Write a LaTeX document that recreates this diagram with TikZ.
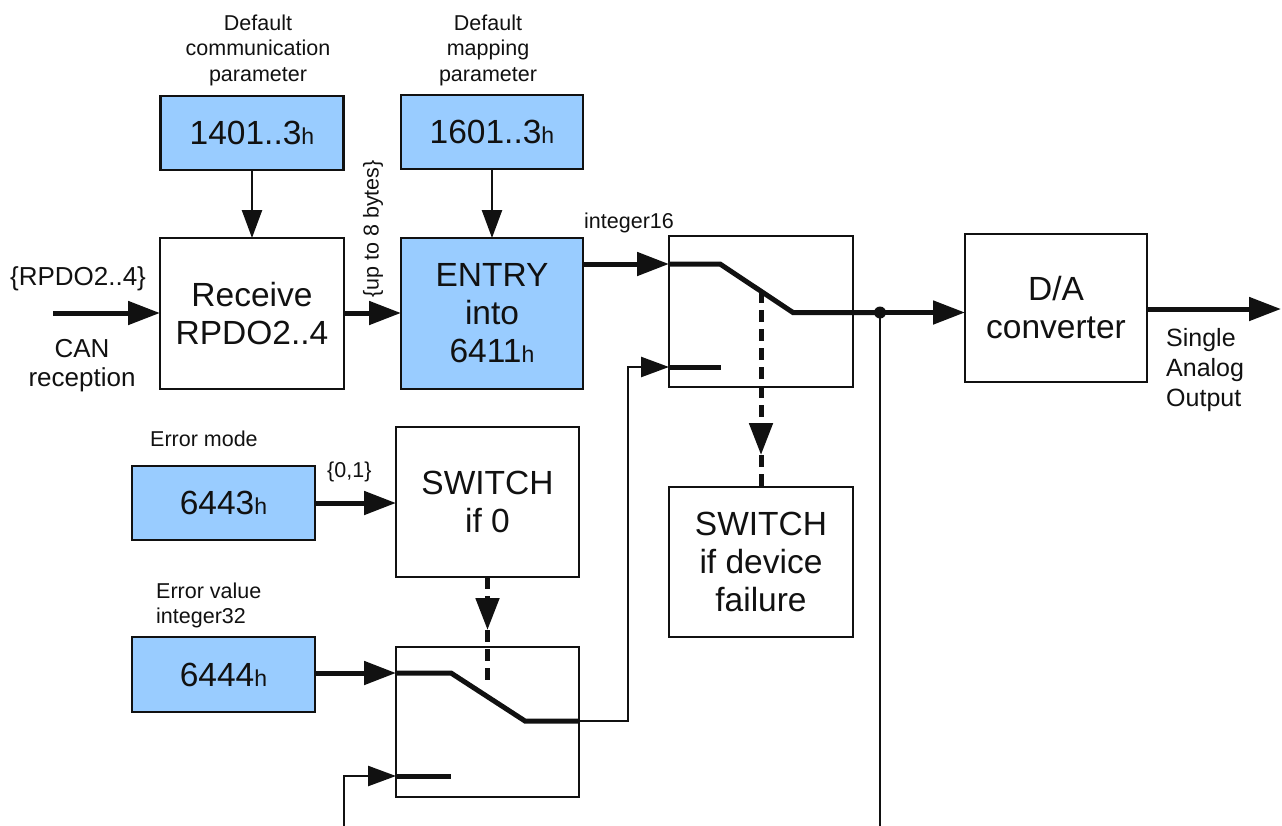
\documentclass[tikz,border=0pt]{standalone}
\usepackage{fontspec}
\setmainfont{Liberation Sans}
\usetikzlibrary{arrows.meta}
\definecolor{boxblue}{HTML}{99CCFF}
\definecolor{ink}{HTML}{111111}
\newcommand\hsub{{\fontsize{23}{23}\selectfont h}}
\begin{document}
\begin{tikzpicture}[x=1pt,y=-1pt,
  blk/.style={draw=ink, line width=2.5pt, inner sep=0pt, outer sep=0pt, align=center, text=ink, font=\fontsize{33.5}{38}\selectfont},
  bluebox/.style={blk, fill=boxblue, minimum width=183pt, minimum height=74pt},
  bigbox/.style={blk, fill=white, minimum width=184pt, minimum height=151pt},
  lbl/.style={inner sep=0pt, text=ink, font=\fontsize{21.5}{25.5}\selectfont},
  heavy/.style={line width=5pt, draw=ink},
  slim/.style={line width=2.5pt, draw=ink},
  bigtip/.style={-{Triangle[length=32pt,width=23pt]}},
  smalltip/.style={-{Triangle[length=28pt,width=20pt]}},
  dsh/.style={line width=5pt, draw=ink, dash pattern=on 12pt off 7pt}
]
\useasboundingbox (0,0) rectangle (1282,825);

% boxes
\node[bluebox] (c1401) at (252,133) {1401..3\hsub};
\node[bigbox] (recv) at (252,313.5) {Receive\\RPDO2..4};
\node[bluebox, minimum width=182pt] (m1601) at (492,132) {1601..3\hsub};
\node[bigbox, fill=boxblue, minimum width=182pt] (entry) at (492,313.5) {ENTRY\\into\\6411\hsub};
\node[bigbox] (sw1) at (761,311.5) {};
\node[bigbox, minimum width=182pt, minimum height=148pt] (da) at (1056,308) {D/A\\converter};
\node[bigbox, minimum height=150pt] (dev) at (761,562) {SWITCH\\if device\\failure};
\node[bluebox] (e6443) at (223.5,503) {6443\hsub};
\node[bigbox, minimum width=183pt, minimum height=150pt] (sw0) at (487.5,502) {SWITCH\\if 0};
\node[bluebox, minimum height=75pt] (e6444) at (223.5,674.5) {6444\hsub};
\node[bigbox, minimum width=183pt, minimum height=150pt] (sw2) at (487.5,722) {};

% labels
\node[lbl, align=center] (lcomm) at (258,50) {Default\\communication\\parameter};
\node[lbl, align=center] (lmap) at (488,50) {Default\\mapping\\parameter};
\node[lbl, font=\fontsize{26}{29}\selectfont] (lrpdo) at (78,279) {\{RPDO2..4\}};
\node[lbl, align=center, font=\fontsize{26}{29}\selectfont] (lcan) at (82,366) {CAN\\reception};
\node[lbl, rotate=90] (lbytes) at (373,229) {\{up to 8 bytes\}};
\node[lbl, anchor=base west] (lint16) at (584,228) {integer16};
\node[lbl, anchor=base west] (lerrm) at (150,446) {Error mode};
\node[lbl, anchor=base west] (l01) at (327,477) {\{0,1\}};
\node[lbl, anchor=north west, align=left, font=\fontsize{21.5}{25}\selectfont] (lerrv) at (156,583) {Error value\\integer32};
\node[lbl, anchor=north west, align=left, font=\fontsize{25}{30}\selectfont] (lout) at (1166,328) {Single\\Analog\\Output};

% coordinates
\coordinate (canin) at (53,313);
\coordinate (s1a) at (669,264);
\coordinate (s1b) at (720,264);
\coordinate (s1c) at (793,312.5);
\coordinate (s1d) at (669,367);
\coordinate (s1e) at (721,367);
\coordinate (s1k) at (761,291);
\coordinate (devtip) at (761,455);
\coordinate (dot) at (880,312.5);
\coordinate (vbot) at (880,830);
\coordinate (s2a) at (396,673);
\coordinate (s2b) at (451,673);
\coordinate (s2c) at (525,721);
\coordinate (s2d) at (396,776);
\coordinate (s2e) at (451,776);
\coordinate (feed1) at (628,721);
\coordinate (feed2) at (344,776);
\coordinate (feed2b) at (344,830);
\coordinate (s2k) at (487.5,687);
\coordinate (sw0tip) at (487.5,630);
\coordinate (outend) at (1281,309);

% connectors
\draw[slim, smalltip] (c1401.south) -- (recv.north);
\draw[slim, smalltip] (m1601.south) -- (entry.north);
\draw[heavy, bigtip] (canin) -- (recv.west |- canin);
\draw[heavy, bigtip] (recv.east |- canin) -- (entry.west |- canin);
\draw[heavy, bigtip] (entry.east |- s1a) -- (s1a);
\draw[heavy, line join=miter] (s1a) -- (s1b) -- (s1c) -- (dot);
\draw[heavy, bigtip] (dot) -- (da.west |- dot);
\fill[ink] (dot) circle (6pt);
\draw[slim] (dot) -- (vbot);
\draw[heavy] (s1d) -- (s1e);
\draw[heavy, bigtip] (da.east |- outend) -- (outend);

\draw[dsh, bigtip] (s1k) -- (devtip);
\draw[dsh] (devtip) -- (dev.north);

\draw[heavy, bigtip] (e6443.east) -- (sw0.west |- e6443.east);
\draw[dsh, bigtip] (sw0.south) -- (sw0tip);
\draw[dsh] (sw0tip) -- (s2k);

\draw[heavy, bigtip] (e6444.east |- s2a) -- (s2a);
\draw[heavy, line join=miter] (s2a) -- (s2b) -- (s2c) -- (sw2.east |- s2c);
\draw[slim, smalltip] (sw2.east |- s2c) -- (feed1) -- (feed1 |- s1d) -- (s1d);
\draw[heavy] (s2d) -- (s2e);
\draw[slim, smalltip] (feed2b) -- (feed2) -- (s2d);
\end{tikzpicture}
\end{document}
